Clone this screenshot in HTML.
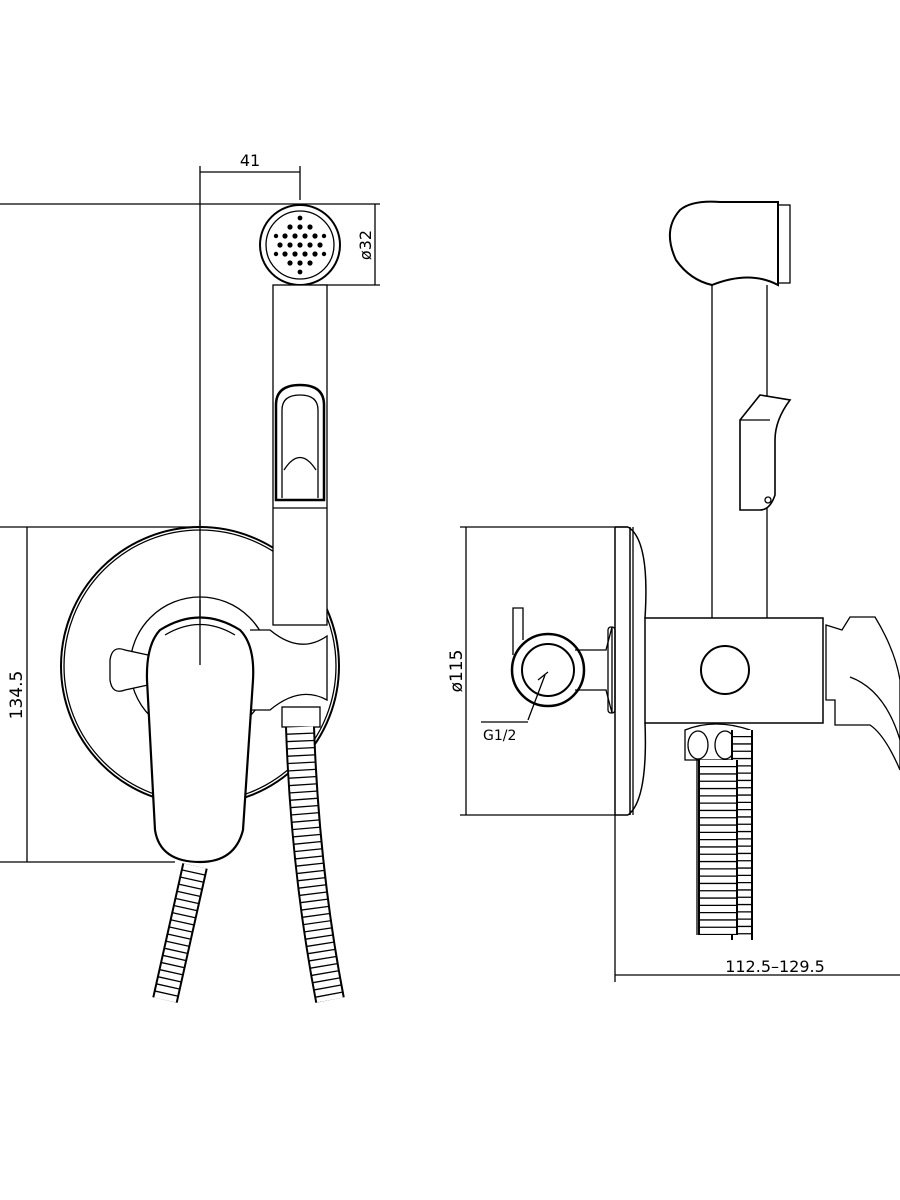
<!DOCTYPE html><html><head><style>body{margin:0;background:#fff}svg{display:block}text{font-family:"DejaVu Sans","Liberation Sans",sans-serif;fill:#000}</style></head><body>
<svg width="900" height="1200" viewBox="0 0 900 1200" fill="none" stroke="#000" stroke-width="1.3">
<!-- LEFT VIEW dims -->
<line x1="200" y1="172" x2="300" y2="172"/><line x1="200" y1="166" x2="200" y2="665"/><line x1="300" y1="166" x2="300" y2="200"/>
<text x="250" y="166" font-size="16" text-anchor="middle" stroke="none">41</text>
<line x1="0" y1="204" x2="380" y2="204"/><line x1="320" y1="285" x2="380" y2="285"/><line x1="375" y1="204" x2="375" y2="285"/>
<text transform="translate(371,245) rotate(-90)" font-size="16" text-anchor="middle" stroke="none">ø32</text>
<line x1="0" y1="527" x2="200" y2="527"/><line x1="0" y1="862" x2="175" y2="862"/><line x1="27" y1="527" x2="27" y2="862"/>
<text transform="translate(22,695) rotate(-90)" font-size="17" text-anchor="middle" stroke="none">134.5</text>
<!-- plate -->
<circle cx="200" cy="666" r="139" stroke-width="2" fill="#fff"/>
<circle cx="200" cy="666" r="136"/>
<circle cx="200" cy="667" r="70"/>
<line x1="200" y1="520" x2="200" y2="665"/>
<!-- knob left -->
<path d="M148 655 L125 650 Q112 645 110 660 L110 680 Q112 695 125 690 L148 685" fill="#fff"/>
<!-- head -->
<circle cx="300" cy="245" r="40" stroke-width="2" fill="#fff"/><circle cx="300" cy="245" r="34"/>
<g fill="#000" stroke="none">
<circle cx="300" cy="245" r="2.6"/><circle cx="310" cy="245" r="2.6"/><circle cx="290" cy="245" r="2.6"/><circle cx="320" cy="245" r="2.6"/><circle cx="280" cy="245" r="2.6"/>
<circle cx="305" cy="236" r="2.6"/><circle cx="295" cy="236" r="2.6"/><circle cx="315" cy="236" r="2.6"/><circle cx="285" cy="236" r="2.6"/>
<circle cx="305" cy="254" r="2.6"/><circle cx="295" cy="254" r="2.6"/><circle cx="315" cy="254" r="2.6"/><circle cx="285" cy="254" r="2.6"/>
<circle cx="300" cy="227" r="2.6"/><circle cx="310" cy="227" r="2.6"/><circle cx="290" cy="227" r="2.6"/>
<circle cx="300" cy="263" r="2.6"/><circle cx="310" cy="263" r="2.6"/><circle cx="290" cy="263" r="2.6"/>
<circle cx="300" cy="218" r="2.4"/><circle cx="300" cy="272" r="2.4"/><circle cx="276" cy="236" r="2.2"/><circle cx="324" cy="236" r="2.2"/><circle cx="276" cy="254" r="2.2"/><circle cx="324" cy="254" r="2.2"/>
</g>
<rect x="273" y="285" width="54" height="340" fill="#fff"/>
<path d="M276 500 L276 405 Q276 385 300 385 Q324 385 324 405 L324 500 Z" stroke-width="2.5"/>
<path d="M282 498 L282 410 Q282 395 300 395 Q318 395 318 410 L318 498" />
<path d="M284 470 Q300 445 316 470"/>
<line x1="273" y1="508" x2="327" y2="508"/>
<!-- holder -->
<path d="M250 630 L270 630 Q300 655 327 636 L327 700 Q300 685 270 710 L250 710" fill="#fff"/>
<rect x="282" y="707" width="38" height="20" fill="#fff"/>
<!-- lever -->
<path d="M160 630 Q200 605 240 630 Q255 645 253 680 L243 830 Q235 862 200 862 Q160 862 155 830 L147 680 Q146 645 160 630 Z" fill="#fff" stroke-width="2.2"/>
<path d="M165 635 Q200 614 235 635"/>
<!-- hoses -->
<path d="M195 866 L165 1000" stroke-width="26"/>
<path d="M195 866 L165 1000" stroke="#fff" stroke-width="22" stroke-dasharray="6 1.3"/>
<path d="M300 727 Q305 870 330 1000" stroke-width="30"/>
<path d="M300 727 Q305 870 330 1000" stroke="#fff" stroke-width="26" stroke-dasharray="6 1.3"/>
<line x1="200" y1="600" x2="200" y2="665"/>
<!-- RIGHT VIEW -->
<line x1="460" y1="527" x2="628" y2="527"/><line x1="460" y1="815" x2="615" y2="815"/><line x1="466" y1="527" x2="466" y2="815"/>
<text transform="translate(462,671) rotate(-90)" font-size="17" text-anchor="middle" stroke="none">ø115</text>
<path d="M615 527 L615 815 M628 527 Q650 540 645 618 M645 723 Q648 800 628 815 M630 527 L630 815 M628 527 L615 527 M628 815 L615 815" stroke-width="1.5"/>
<line x1="633" y1="527" x2="633" y2="815"/>
<!-- body -->
<rect x="645" y="618" width="178" height="105" fill="#fff" stroke-width="1.5"/>
<circle cx="725" cy="670" r="24" stroke-width="2"/>
<!-- holder -->
<path d="M575 650 L606 650 L612 627 L612 713 L606 690 L575 690"/>
<rect x="608" y="627" width="7" height="86" rx="3"/>
<circle cx="548" cy="670" r="36" stroke-width="2.5"/><circle cx="548" cy="670" r="26" stroke-width="2"/>
<path d="M513 655 L513 608 L523 608 L523 640"/>
<path d="M538 680 L548 672 M528 720 L545 675 M481 722 L528 722"/>
<text x="483" y="740" font-size="14" stroke="none">G1/2</text>
<!-- lever right -->
<path d="M826 625 L842 630 L850 617 L875 617 Q895 650 900 680 L900 770 Q885 735 870 725 L835 725 L835 700 L826 700 Z" fill="#fff"/>
<path d="M850 677 Q885 690 900 740"/>
<!-- shaft -->
<line x1="712" y1="285" x2="712" y2="618"/><line x1="767" y1="285" x2="767" y2="618"/>
<path d="M712 285 Q690 280 676 260 Q662 230 680 210 Q692 200 720 202 L778 202 L778 285 Q750 270 712 285 Z" fill="#fff" stroke-width="2"/>
<rect x="778" y="205" width="12" height="78"/>
<path d="M740 420 L760 395 L790 400 Q775 420 775 440 L775 495 Q770 510 760 510 L740 510 Z" fill="#fff" stroke-width="1.6"/>
<line x1="740" y1="420" x2="770" y2="420"/><circle cx="768" cy="500" r="3"/>
<!-- nut & hose -->
<path d="M685 730 Q715 718 750 730 L750 760 L685 760 Z" fill="#fff"/>
<ellipse cx="698" cy="745" rx="10" ry="14"/><ellipse cx="725" cy="745" rx="10" ry="14"/>
<line x1="697" y1="760" x2="697" y2="935"/>
<path d="M742 730 L742 940" stroke-width="22"/><path d="M742 730 L742 940" stroke="#fff" stroke-width="18" stroke-dasharray="6 1.3"/>
<path d="M718 760 L718 935" stroke-width="40"/><path d="M718 760 L718 935" stroke="#fff" stroke-width="36" stroke-dasharray="6 1.3"/>
<!-- dim bottom -->
<line x1="615" y1="815" x2="615" y2="982"/><line x1="615" y1="975" x2="900" y2="975"/>
<text x="775" y="972" font-size="16" text-anchor="middle" stroke="none">112.5–129.5</text>
</svg></body></html>
